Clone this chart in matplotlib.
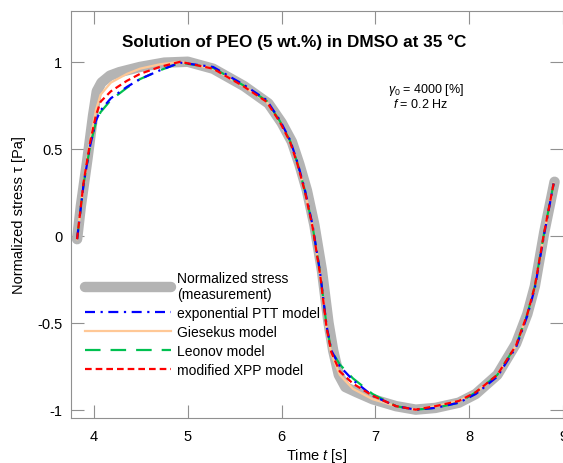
import matplotlib
matplotlib.use("Agg")
import matplotlib.pyplot as plt
import numpy as np

plt.rcParams['font.family'] = ['Liberation Sans', 'DejaVu Sans']
plt.rcParams['mathtext.fontset'] = 'custom'
plt.rcParams['mathtext.rm'] = 'Liberation Sans'
plt.rcParams['mathtext.it'] = 'Liberation Sans:italic'

t_meas = [3.82, 3.86, 3.93, 3.99, 4.03, 4.08, 4.17, 4.27, 4.49, 4.75, 5.0, 5.27,
          5.6, 5.86, 6.0, 6.11, 6.19, 6.27, 6.35, 6.43, 6.5, 6.55, 6.61, 6.68,
          6.8, 6.97, 7.22, 7.43, 7.64, 7.89, 8.07, 8.3, 8.5, 8.62, 8.7, 8.8, 8.91]
y_meas = [-0.02, 0.17, 0.44, 0.69, 0.83, 0.88, 0.92, 0.94, 0.97, 0.995, 1.0, 0.96,
          0.86, 0.76, 0.65, 0.54, 0.41, 0.26, 0.06, -0.2, -0.5, -0.66, -0.8, -0.87,
          -0.9, -0.94, -0.98, -1.0, -0.99, -0.96, -0.91, -0.8, -0.62, -0.45, -0.29, 0.02, 0.31]

# model predictions, common time grid
t_model = [3.82, 3.89, 3.96, 4.02, 4.07, 4.18, 4.35, 4.49, 4.7, 4.92, 5.27, 5.59,
           5.84, 5.98, 6.09, 6.17, 6.25, 6.33, 6.41, 6.48, 6.53, 6.62, 6.76, 6.97,
           7.22, 7.43, 7.64, 7.89, 8.07, 8.3, 8.5, 8.62, 8.7, 8.8, 8.9]
y_xpp = [-0.02, 0.31, 0.54, 0.69, 0.77, 0.83, 0.89, 0.93, 0.97, 1.0, 0.96, 0.86,
         0.77, 0.655, 0.54, 0.41, 0.25, 0.05, -0.22, -0.53, -0.67, -0.78, -0.85, -0.92,
         -0.98, -1.0, -0.98, -0.95, -0.9, -0.8, -0.63, -0.45, -0.29, 0.02, 0.3]
y_ptt = [-0.02, 0.3, 0.52, 0.66, 0.72, 0.79, 0.855, 0.9, 0.95, 0.995, 0.97, 0.87,
         0.78, 0.665, 0.55, 0.42, 0.26, 0.06, -0.21, -0.52, -0.66, -0.75, -0.83, -0.92,
         -0.98, -1.0, -0.99, -0.96, -0.91, -0.81, -0.64, -0.46, -0.3, 0.01, 0.3]
y_gie = [-0.02, 0.31, 0.55, 0.72, 0.81, 0.88, 0.93, 0.96, 0.985, 1.0, 0.96, 0.86,
         0.77, 0.655, 0.54, 0.41, 0.25, 0.05, -0.22, -0.53, -0.68, -0.8, -0.88, -0.94,
         -0.98, -1.0, -0.98, -0.95, -0.9, -0.8, -0.63, -0.45, -0.29, 0.02, 0.3]
y_leo = [-0.02, 0.3, 0.52, 0.65, 0.71, 0.78, 0.85, 0.9, 0.95, 0.995, 0.965, 0.865,
         0.775, 0.66, 0.545, 0.415, 0.255, 0.055, -0.21, -0.52, -0.66, -0.74, -0.82, -0.91,
         -0.98, -1.0, -0.99, -0.96, -0.9, -0.8, -0.63, -0.45, -0.29, 0.02, 0.3]

xticks = [4, 5, 6, 7, 8, 9]
yticks = [-1, -0.5, 0, 0.5, 1]
ytick_labels = ['-1', '-0.5', '0', '0.5', '1']

fig = plt.figure(figsize=(5.63, 4.64), dpi=100)
ax = fig.add_axes([0.1256, 0.097, 0.8744, 0.878])

l_meas, = ax.plot(t_meas, y_meas, color='#b4b4b4', lw=7.5, solid_capstyle='round',
                  solid_joinstyle='round')
l_gie, = ax.plot(t_model, y_gie, color='#ffc896', lw=1.6)
l_leo, = ax.plot(t_model, y_leo, color='#00c050', lw=1.6, linestyle=(0, (7, 4.5)))
l_ptt, = ax.plot(t_model, y_ptt, color='#0000ff', lw=1.6, linestyle=(0, (4.5, 2.5, 1, 2.5)))
l_xpp, = ax.plot(t_model, y_xpp, color='#ff0000', lw=1.6, linestyle=(0, (3, 1.8)))

ax.set_xlim(3.752, 8.989)
ax.set_ylim(-1.048, 1.294)
ax.set_xticks(xticks)
ax.set_yticks(yticks)
ax.set_yticklabels(ytick_labels)
ax.tick_params(direction='in', length=9.5, width=0.8, color='#909090',
               top=True, right=True, labelsize=10.5, pad=6)
ax.tick_params(axis='x', pad=8)
for side in ['left', 'bottom', 'top']:
    ax.spines[side].set_color('#909090')
ax.spines['right'].set_visible(False)

ax.set_xlabel('Time $t$ [s]', fontsize=10.5, labelpad=2)
ax.set_ylabel('Normalized stress τ [Pa]', fontsize=10.5, labelpad=8)

fig.text(294 / 563, 1 - 42 / 464, 'Solution of PEO (5 wt.%) in DMSO at 35 °C',
         ha='center', va='center', fontsize=12.3, fontweight='bold')
fig.text(388 / 563, 1 - 90 / 464, r'$\gamma_0$ = 4000 [%]', ha='left', va='center', fontsize=9)
fig.text(393 / 563, 1 - 104 / 464, r'$f$ = 0.2 Hz', ha='left', va='center', fontsize=9)

ax.legend([l_meas, l_ptt, l_gie, l_leo, l_xpp],
          ['Normalized stress\n(measurement)', 'exponential PTT model', 'Giesekus model',
           'Leonov model', 'modified XPP model'],
          loc='upper left', bbox_to_anchor=(85 / 563, 1 - 272 / 464),
          bbox_transform=fig.transFigure, frameon=False, fontsize=10,
          handlelength=6.2, handletextpad=0.4, borderpad=0, borderaxespad=0,
          labelspacing=0.35)

fig.savefig('out.png', dpi=100)
